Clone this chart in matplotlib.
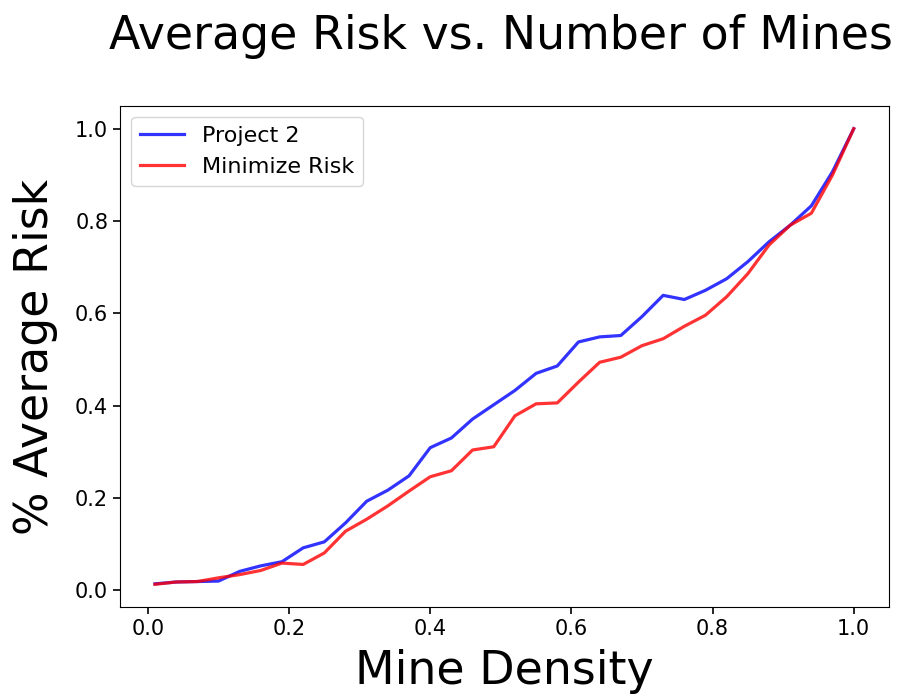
# Average risk of the two solvers as the mine density grows

import matplotlib.pyplot as plt
import numpy as np

density = np.round(np.arange(0.01, 1.0001, 0.03), 2)

risk_project2 = [0.014, 0.018, 0.019, 0.020, 0.041, 0.053, 0.062, 0.092,
                 0.105, 0.146, 0.193, 0.217, 0.248, 0.309, 0.330, 0.371,
                 0.402, 0.433, 0.470, 0.486, 0.538, 0.549, 0.552, 0.593,
                 0.639, 0.630, 0.650, 0.675, 0.712, 0.755, 0.791, 0.833,
                 0.907, 1.000]
risk_minimize = [0.013, 0.018, 0.019, 0.027, 0.034, 0.043, 0.059, 0.056,
                 0.081, 0.128, 0.154, 0.183, 0.215, 0.246, 0.259, 0.304,
                 0.311, 0.378, 0.404, 0.406, 0.451, 0.494, 0.505, 0.530,
                 0.545, 0.572, 0.596, 0.636, 0.686, 0.748, 0.791, 0.817,
                 0.900, 1.000]

fig = plt.figure(figsize=(8.99, 6.97), dpi=100)
ax = fig.add_axes([0.1335, 0.129, 0.855, 0.719])
ax.plot(density, risk_project2, ls='-', lw=2.3, c='blue', alpha=0.8,
        label='Project 2')
ax.plot(density, risk_minimize, ls='-', lw=2.3, c='red', alpha=0.8,
        label='Minimize Risk')
fig.suptitle("Average Risk vs. Number of Mines", fontsize=33,
             x=0.557, y=0.98)
ax.set_xlabel("Mine Density", fontsize=33, labelpad=7)
ax.set_ylabel("% Average Risk", fontsize=33, labelpad=12)
ax.tick_params(labelsize=15, length=5, width=1.2)
ax.legend(loc='upper left', fontsize=16)

fig.savefig('out.png', dpi=100)
